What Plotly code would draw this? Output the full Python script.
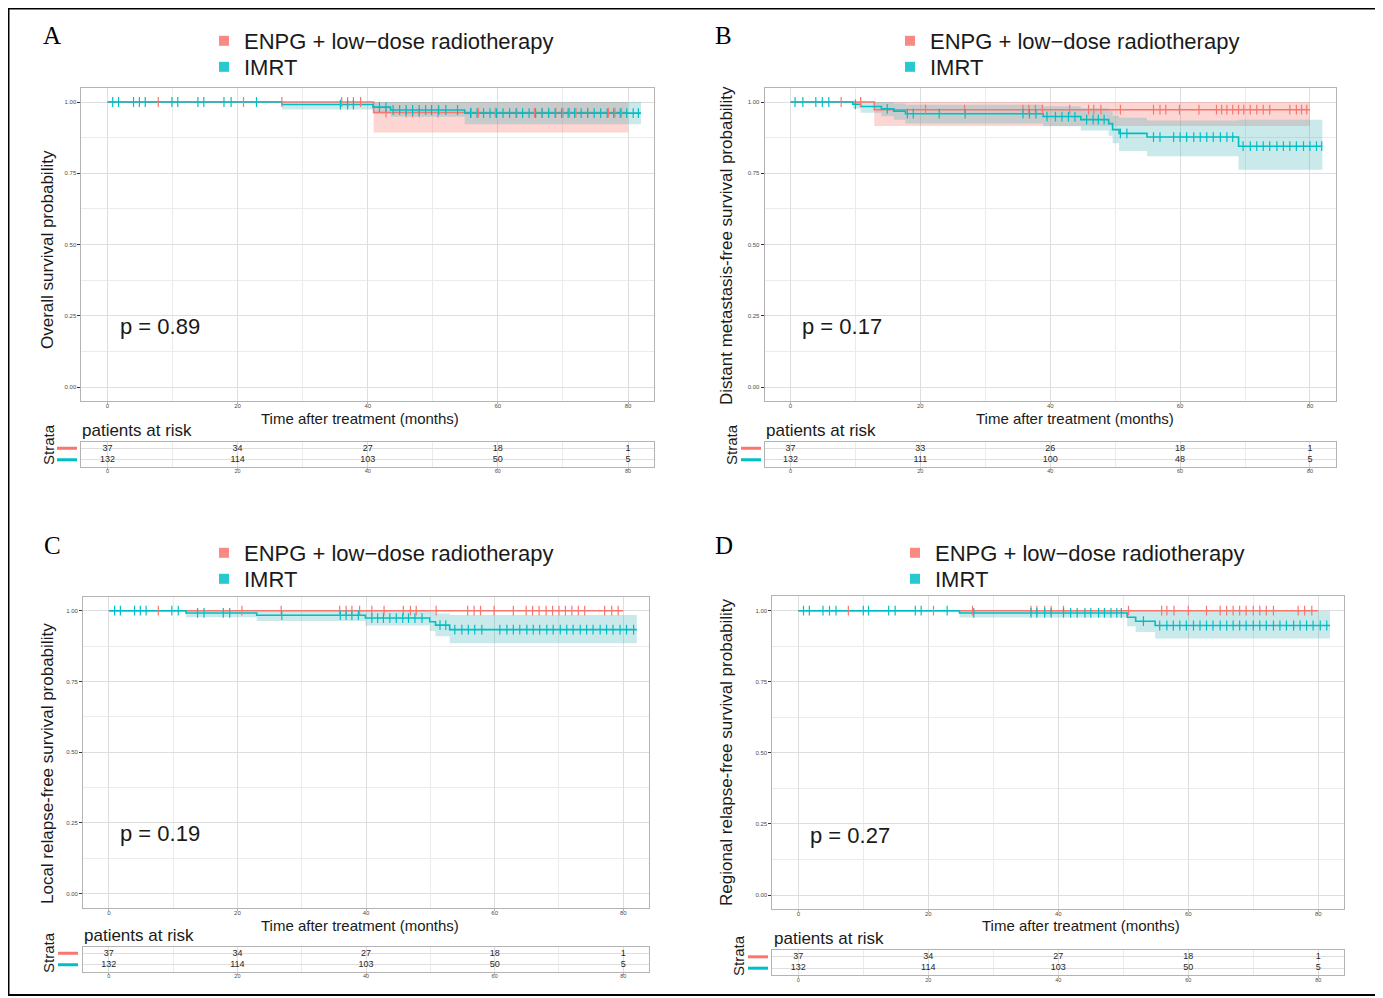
import plotly.graph_objects as go

W, H = 1383, 998
OFF = 8                      # default page margin of the html body
FW, FH = W - OFF, H - OFF    # figure size

# ---------------- data ----------------
SERIES = ["ENPG + low\u2212dose radiotherapy", "IMRT"]
BREAKS = [0, 20, 40, 60, 80]

# Panel A: overall survival
A_ENPG_T = [0, 40.9]
A_ENPG_S = [1.0, 0.963]
A_ENPG_LO = [1.0, 0.893]
A_ENPG_HI = [1.0, 1.0]
A_ENPG_END = 80.0
A_ENPG_CENS = [7.8, 20.9, 26.8, 36.0, 36.9, 37.8, 38.9, 42.8, 45.9, 46.9, 47.9, 50.8, 55.9, 57.0,
               59.6, 62.9, 65.6, 66.8, 67.8, 68.9, 70.0, 71.0, 72.0, 73.8, 77.0, 78.0, 79.0]
A_IMRT_T = [0, 26.8, 40.8, 43.5, 54.9]
A_IMRT_S = [1.0, 0.991, 0.982, 0.972, 0.961]
A_IMRT_LO = [1.0, 0.974, 0.960, 0.948, 0.922]
A_IMRT_HI = [1.0, 1.0, 1.0, 1.0, 1.0]
A_IMRT_END = 82.0
A_IMRT_CENS = [0.8, 1.7, 4.0, 4.9, 5.8, 9.9, 10.8, 13.9, 14.8, 17.9, 19.0, 22.9, 35.8, 36.9, 37.8,
               41.8, 42.8, 43.9, 44.9, 45.9, 46.9, 47.9, 48.9, 49.8, 50.9, 52.0, 53.8, 55.8, 56.8,
               57.8, 58.8, 59.8, 60.8, 61.8, 62.8, 63.8, 64.8, 65.8, 66.8, 67.8, 68.8, 69.8, 70.8,
               71.8, 72.8, 73.8, 74.8, 75.8, 76.8, 77.8, 78.8, 79.8, 80.8, 81.6]
A_RISK_ENPG = [37, 34, 27, 18, 1]
A_RISK_IMRT = [132, 114, 103, 50, 5]
A_P = "p = 0.89"
A_YTITLE = "Overall survival probability"

# Panel B: distant metastasis-free survival
B_ENPG_T = [0, 12.9]
B_ENPG_S = [1.0, 0.973]
B_ENPG_LO = [1.0, 0.916]
B_ENPG_HI = [1.0, 1.0]
B_ENPG_END = 80.0
B_ENPG_CENS = [7.8, 10.8, 20.8, 26.8, 35.8, 36.7, 37.7, 38.8, 43.0, 45.9, 46.7, 47.8, 50.8, 55.9,
               56.9, 57.8, 59.9, 62.9, 65.6, 66.4, 67.2, 68.1, 69.0, 69.8, 70.8, 71.8, 72.8, 73.8,
               76.9, 77.9, 78.7, 79.5]
B_IMRT_T = [0, 9.6, 10.8, 14.0, 15.9, 17.7, 38.9, 44.7, 49.0, 49.6, 50.6, 54.9, 69.0]
B_IMRT_S = [1.0, 0.992, 0.984, 0.976, 0.968, 0.959, 0.949, 0.938, 0.924, 0.903, 0.890, 0.877, 0.845]
B_IMRT_LO = [1.0, 0.977, 0.962, 0.950, 0.938, 0.925, 0.915, 0.900, 0.882, 0.855, 0.828, 0.810, 0.762]
B_IMRT_HI = [1.0, 1.0, 1.0, 1.0, 0.995, 0.990, 0.985, 0.978, 0.968, 0.952, 0.945, 0.935, 0.938]
B_IMRT_END = 81.9
B_IMRT_CENS = [0.7, 1.9, 3.9, 4.9, 5.9, 10.0, 14.9, 18.0, 18.9, 22.9, 26.9, 35.8, 36.8, 37.8, 39.5,
               40.8, 41.8, 42.8, 43.8, 45.6, 46.6, 47.4, 48.3, 50.8, 51.8, 55.9, 56.9, 59.0, 60.0,
               61.0, 62.1, 63.1, 64.1, 65.1, 66.2, 67.2, 68.1, 69.7, 70.8, 71.8, 72.8, 73.8, 74.9,
               75.9, 76.9, 77.9, 79.0, 80.0, 81.0, 81.8]
B_RISK_ENPG = [37, 33, 26, 18, 1]
B_RISK_IMRT = [132, 111, 100, 48, 5]
B_P = "p = 0.17"
B_YTITLE = "Distant metastasis-free survival probability"

# Panel C: local relapse-free survival
C_ENPG_T = [0]
C_ENPG_S = [1.0]
C_ENPG_LO = [1.0]
C_ENPG_HI = [1.0]
C_ENPG_END = 80.0
C_ENPG_CENS = [7.7, 20.7, 26.8, 35.9, 36.9, 37.8, 39.0, 40.9, 42.8, 45.8, 46.9, 47.8, 50.9, 55.8,
               56.8, 57.8, 59.9, 62.9, 64.9, 65.9, 66.9, 68.0, 69.0, 70.0, 71.0, 72.0, 73.0, 74.0,
               77.1, 78.2, 79.2]
C_IMRT_T = [0, 12.0, 23.0, 39.9, 49.9, 50.8, 53.0]
C_IMRT_S = [1.0, 0.992, 0.984, 0.974, 0.961, 0.949, 0.933]
C_IMRT_LO = [1.0, 0.977, 0.964, 0.948, 0.928, 0.910, 0.885]
C_IMRT_HI = [1.0, 1.0, 1.0, 1.0, 0.995, 0.990, 0.985]
C_IMRT_END = 82.1
C_IMRT_CENS = [0.9, 1.8, 4.0, 4.9, 5.8, 9.8, 10.8, 13.8, 14.8, 17.8, 18.8, 26.9, 36.0, 36.9, 37.8,
               38.8, 40.9, 41.8, 42.7, 43.7, 44.7, 45.7, 46.6, 47.6, 48.7, 51.5, 52.4, 53.8, 54.9,
               55.9, 56.9, 58.0, 60.8, 61.9, 62.9, 63.9, 65.0, 66.0, 67.0, 68.1, 69.1, 70.2, 71.2,
               72.2, 73.3, 74.3, 75.3, 76.4, 77.4, 78.4, 79.5, 80.5, 81.6]
C_RISK_ENPG = [37, 34, 27, 18, 1]
C_RISK_IMRT = [132, 114, 103, 50, 5]
C_P = "p = 0.19"
C_YTITLE = "Local relapse-free survival probability"

# Panel D: regional relapse-free survival
D_ENPG_T = [0]
D_ENPG_S = [1.0]
D_ENPG_LO = [1.0]
D_ENPG_HI = [1.0]
D_ENPG_END = 80.0
D_ENPG_CENS = [7.7, 20.8, 26.8, 35.8, 36.7, 37.9, 38.9, 40.8, 50.8, 55.9, 56.7, 57.8, 60.0, 62.8,
               64.9, 65.9, 66.9, 67.9, 68.9, 70.0, 71.0, 72.0, 73.1, 76.9, 77.9, 79.0]
D_IMRT_T = [0, 24.8, 50.6, 51.9, 54.9]
D_IMRT_S = [1.0, 0.992, 0.977, 0.963, 0.948]
D_IMRT_LO = [1.0, 0.976, 0.945, 0.925, 0.902]
D_IMRT_HI = [1.0, 1.0, 1.0, 1.0, 1.0]
D_IMRT_END = 81.8
D_IMRT_CENS = [0.8, 1.7, 3.8, 4.8, 5.8, 10.0, 10.8, 13.9, 14.9, 18.0, 18.9, 22.9, 27.0, 35.8, 36.7,
               37.9, 38.9, 40.8, 41.9, 42.9, 44.1, 45.0, 46.2, 47.1, 48.1, 49.0, 49.7, 53.1, 55.6,
               56.7, 57.7, 58.7, 59.7, 60.8, 61.8, 62.8, 63.8, 64.9, 65.9, 66.9, 67.9, 68.9, 70.0,
               71.0, 72.0, 73.1, 74.1, 75.1, 76.2, 77.2, 78.2, 79.2, 80.3, 81.3]
D_RISK_ENPG = [37, 34, 27, 18, 1]
D_RISK_IMRT = [132, 114, 103, 50, 5]
D_P = "p = 0.27"
D_YTITLE = "Regional relapse-free survival probability"

# ---------------- style / geometry (reference pixels) ----------------
RED, TEAL = "#F8766D", "#00BFC4"
RED_FILL, TEAL_FILL = "rgba(248,118,109,0.30)", "rgba(60,175,182,0.28)"
FONT = "Liberation Sans"
SERIF = "Liberation Serif"
TXT = "#1A1A1A"
GRID, GRID_MINOR, BORDER, TICKTXT = "#DEDEDE", "#EBEBEB", "#B3B3B3", "#4D4D4D"

GEOM = {
    "A": dict(x0=107.5, x80=628.0, y1=102.0, y0=387.0, rt=441.5, rb=466.5, letter=(52, 36),
              leg=(204, 41, 67), ytitle=(47, 250), xtitle=(360, 418), p=(118, 327), par=(80, 430),
              strata=(48, 445), bar=(57, 77)),
    "B": dict(x0=790.5, x80=1310.0, y1=102.0, y0=387.0, rt=441.5, rb=466.5, letter=(723, 36),
              leg=(890, 41, 67), ytitle=(726, 246), xtitle=(1075, 418), p=(800, 327), par=(764, 430),
              strata=(731, 445), bar=(741, 761)),
    "C": dict(x0=108.8, x80=623.3, y1=610.7, y0=893.5, rt=946.5, rb=971.5, letter=(52, 545),
              leg=(204, 553, 579), ytitle=(47, 764), xtitle=(360, 925), p=(118, 833), par=(82, 935),
              strata=(48, 953), bar=(58, 78)),
    "D": dict(x0=798.3, x80=1318.3, y1=610.7, y0=895.0, rt=950.0, rb=975.0, letter=(724, 545),
              leg=(895, 553, 579), ytitle=(726, 752), xtitle=(1081, 925), p=(808, 835), par=(772, 938),
              strata=(738, 956), bar=(748, 768)),
}
XR = [-4, 84]
YR = [-0.05, 1.05]
LEG_FONT = 22
LEG_DY = 21   # legend top -> first item centre

PANELS = [
    ("A", (A_ENPG_T, A_ENPG_S, A_ENPG_LO, A_ENPG_HI, A_ENPG_END, A_ENPG_CENS),
     (A_IMRT_T, A_IMRT_S, A_IMRT_LO, A_IMRT_HI, A_IMRT_END, A_IMRT_CENS),
     A_RISK_ENPG, A_RISK_IMRT, A_P, A_YTITLE),
    ("B", (B_ENPG_T, B_ENPG_S, B_ENPG_LO, B_ENPG_HI, B_ENPG_END, B_ENPG_CENS),
     (B_IMRT_T, B_IMRT_S, B_IMRT_LO, B_IMRT_HI, B_IMRT_END, B_IMRT_CENS),
     B_RISK_ENPG, B_RISK_IMRT, B_P, B_YTITLE),
    ("C", (C_ENPG_T, C_ENPG_S, C_ENPG_LO, C_ENPG_HI, C_ENPG_END, C_ENPG_CENS),
     (C_IMRT_T, C_IMRT_S, C_IMRT_LO, C_IMRT_HI, C_IMRT_END, C_IMRT_CENS),
     C_RISK_ENPG, C_RISK_IMRT, C_P, C_YTITLE),
    ("D", (D_ENPG_T, D_ENPG_S, D_ENPG_LO, D_ENPG_HI, D_ENPG_END, D_ENPG_CENS),
     (D_IMRT_T, D_IMRT_S, D_IMRT_LO, D_IMRT_HI, D_IMRT_END, D_IMRT_CENS),
     D_RISK_ENPG, D_RISK_IMRT, D_P, D_YTITLE),
]


def px(x):
    return (x - OFF) / FW


def py(y):
    return 1 - (y - OFF) / FH


def ref(n, c):
    return c if n == 1 else f"{c}{n}"


def axkey(n, c):
    return f"{c}axis" if n == 1 else f"{c}axis{n}"


def step_at(times, vals, t):
    v = vals[0]
    for ti, vi in zip(times, vals):
        if ti <= t:
            v = vi
    return v


def ann(text, x, y, size, xanchor="left", yanchor="middle", angle=0, family=FONT, color=TXT):
    return dict(text=text, x=px(x), y=py(y), xref="paper", yref="paper", xanchor=xanchor,
                yanchor=yanchor, showarrow=False, textangle=angle,
                font=dict(size=size, family=family, color=color))


fig = go.Figure()
annotations, shapes, layout_axes, legends = [], [], {}, {}
leg_count = 0

for i, (key, enpg, imrt, risk_e, risk_i, ptxt, ytitle) in enumerate(PANELS):
    g = GEOM[key]
    kx, ky = 2 * i + 1, 2 * i + 1
    rx, ry = 2 * i + 2, 2 * i + 2
    ppm = (g["x80"] - g["x0"]) / 80.0
    xl, xr = g["x0"] + XR[0] * ppm, g["x0"] + XR[1] * ppm
    ppu = g["y0"] - g["y1"]
    yt, yb = g["y1"] - (YR[1] - 1) * ppu, g["y0"] - YR[0] * ppu

    # CI bands
    for (T, S, LO, HI, END, CENS), fill in ((enpg, RED_FILL), (imrt, TEAL_FILL)):
        bx = list(T) + [END]
        fig.add_trace(go.Scatter(x=bx, y=list(HI) + [HI[-1]], mode="lines", line=dict(width=0, shape="hv"),
                                 xaxis=ref(kx, "x"), yaxis=ref(ky, "y"), showlegend=False, hoverinfo="skip"))
        fig.add_trace(go.Scatter(x=bx, y=list(LO) + [LO[-1]], mode="lines", line=dict(width=0, shape="hv"),
                                 fill="tonexty", fillcolor=fill,
                                 xaxis=ref(kx, "x"), yaxis=ref(ky, "y"), showlegend=False, hoverinfo="skip"))
    # survival curves + censor marks
    for (T, S, LO, HI, END, CENS), col, name in ((enpg, RED, SERIES[0]), (imrt, TEAL, SERIES[1])):
        fig.add_trace(go.Scatter(x=list(T) + [END], y=list(S) + [S[-1]], mode="lines",
                                 line=dict(color=col, width=1.6, shape="hv"), name=name,
                                 xaxis=ref(kx, "x"), yaxis=ref(ky, "y"), showlegend=False))
    for (T, S, LO, HI, END, CENS), col in ((enpg, RED), (imrt, TEAL)):
        fig.add_trace(go.Scatter(x=CENS, y=[step_at(T, S, c) for c in CENS], mode="markers",
                                 marker=dict(symbol="line-ns", size=7, line=dict(color=col, width=1.2)),
                                 xaxis=ref(kx, "x"), yaxis=ref(ky, "y"), showlegend=False))
    # legend entries (one legend box per entry so the row spacing can follow the reference)
    for (col, name), ly in zip(((RED, SERIES[0]), (TEAL, SERIES[1])), (g["leg"][1], g["leg"][2])):
        leg_count += 1
        legname = "legend" if leg_count == 1 else f"legend{leg_count}"
        fig.add_trace(go.Scatter(x=[None], y=[None], mode="markers", name=name,
                                 marker=dict(symbol="square", size=10, color=col, opacity=0.85),
                                 xaxis=ref(kx, "x"), yaxis=ref(ky, "y"), legend=legname, showlegend=True))
        legends[legname] = dict(x=px(g["leg"][0]), y=py(ly - LEG_DY), xanchor="left", yanchor="top",
                                bgcolor="rgba(0,0,0,0)", borderwidth=0, itemwidth=30, traceorder="normal",
                                font=dict(size=LEG_FONT, family=FONT, color=TXT), orientation="v")

    # risk table numbers
    for row, vals in ((2, risk_e), (1, risk_i)):
        fig.add_trace(go.Scatter(x=BREAKS, y=[row] * len(BREAKS), mode="text",
                                 text=[str(v) for v in vals],
                                 textfont=dict(size=9, family=FONT, color="#262626"),
                                 xaxis=ref(rx, "x"), yaxis=ref(ry, "y"), showlegend=False, hoverinfo="skip"))

    common_x = dict(range=XR, tickmode="linear", tick0=0, dtick=20, ticks="outside", ticklen=2,
                    tickwidth=1, tickcolor=BORDER, showgrid=True, gridcolor=GRID, gridwidth=1,
                    minor=dict(dtick=10, tick0=0, showgrid=True, gridcolor=GRID_MINOR, gridwidth=0.8),
                    showline=True, mirror=True, linecolor=BORDER, linewidth=1, zeroline=False,
                    fixedrange=True, ticklabelstandoff=-3)
    layout_axes[axkey(kx, "x")] = dict(common_x, domain=[px(xl), px(xr)], anchor=ref(ky, "y"),
                                       tickfont=dict(size=6, family=FONT, color=TICKTXT))
    layout_axes[axkey(ky, "y")] = dict(domain=[py(yb), py(yt)], range=YR, anchor=ref(kx, "x"),
                                       tickmode="linear", tick0=0, dtick=0.25, tickformat=".2f",
                                       ticks="outside", ticklen=3, tickwidth=1, tickcolor="#333333",
                                       tickfont=dict(size=6, family=FONT, color=TICKTXT),
                                       showgrid=True, gridcolor=GRID, gridwidth=1,
                                       minor=dict(dtick=0.125, tick0=0, showgrid=True,
                                                  gridcolor=GRID_MINOR, gridwidth=0.8),
                                       showline=True, mirror=True, linecolor=BORDER, linewidth=1,
                                       zeroline=False, fixedrange=True)
    layout_axes[axkey(rx, "x")] = dict(common_x, domain=[px(xl), px(xr)], anchor=ref(ry, "y"),
                                       tickfont=dict(size=5.5, family=FONT, color=TICKTXT))
    layout_axes[axkey(ry, "y")] = dict(domain=[py(g["rb"]), py(g["rt"])], range=[0.4, 2.6],
                                       anchor=ref(rx, "x"), tickvals=[1, 2], showticklabels=False,
                                       ticks="", showgrid=True, gridcolor=GRID, gridwidth=1,
                                       showline=True, mirror=True, linecolor=BORDER, linewidth=1,
                                       zeroline=False, fixedrange=True)

    # texts
    annotations.append(ann(key, g["letter"][0], g["letter"][1], 25, xanchor="center", family=SERIF,
                           color="#000000"))
    annotations.append(ann(ytitle, g["ytitle"][0], g["ytitle"][1], 17, xanchor="center", angle=-90))
    annotations.append(ann("Time after treatment (months)", g["xtitle"][0], g["xtitle"][1], 15,
                           xanchor="center"))
    annotations.append(ann(ptxt, g["p"][0], g["p"][1], 22))
    annotations.append(ann("patients at risk", g["par"][0], g["par"][1], 17))
    annotations.append(ann("Strata", g["strata"][0], g["strata"][1], 15, xanchor="center", angle=-90))
    for row, col in ((2, RED), (1, TEAL)):
        shapes.append(dict(type="line", xref="paper", yref=ref(ry, "y"), x0=px(g["bar"][0]),
                           x1=px(g["bar"][1]), y0=row, y1=row, line=dict(color=col, width=3)))

shapes.append(dict(type="rect", xref="paper", yref="paper", x0=px(8.5), x1=px(1377), y0=py(995),
                   y1=py(8.5), line=dict(color="#000000", width=2)))

fig.update_layout(width=FW, height=FH, autosize=False, margin=dict(l=0, r=0, t=0, b=0, pad=0),
                  paper_bgcolor="white", plot_bgcolor="white", annotations=annotations, shapes=shapes,
                  font=dict(family=FONT), **layout_axes, **legends)
fig.write_html("out.html")
